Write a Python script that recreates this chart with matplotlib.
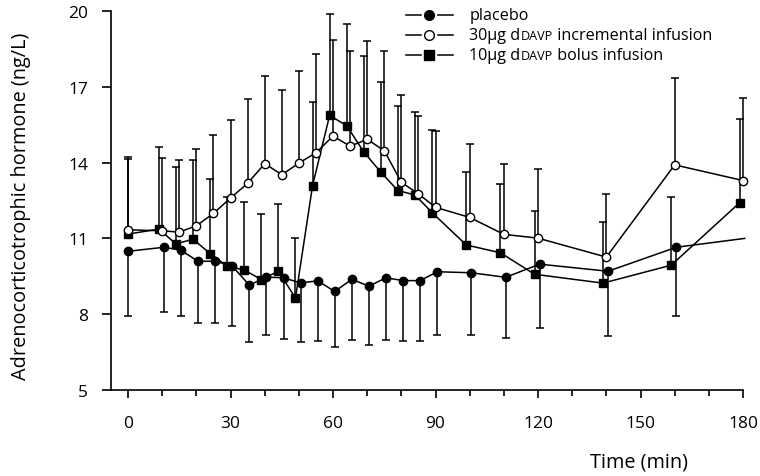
import numpy as np
import matplotlib
matplotlib.use("Agg")
import matplotlib.pyplot as plt
from matplotlib.offsetbox import DrawingArea, TextArea, HPacker, VPacker, AnchoredOffsetbox
from matplotlib.lines import Line2D

# ---------------- data ----------------
times = [0, 10, 15, 20, 25, 30, 35, 40, 45, 50, 55, 60, 65, 70, 75, 80, 85, 90,
         100, 110, 120, 140, 160, 180]

placebo_mean = [10.49, 10.65, 10.53, 10.09, 10.10, 9.90, 9.15, 9.47, 9.44, 9.24,
                9.32, 8.90, 9.38, 9.11, 9.44, 9.33, 9.33, 9.68, 9.64, 9.46, 9.98,
                9.70, 10.65, 11.00]
placebo_low = [7.94, 8.07, 7.91, 7.65, 7.65, 7.52, 6.88, 7.18, 7.02, 6.89, 6.93,
               6.70, 6.98, 6.79, 6.96, 6.95, 6.93, 7.19, 7.18, 7.04, 7.44, 7.15,
               7.92, np.nan]

incr_mean = [11.34, 11.30, 11.25, 11.50, 11.99, 12.60, 13.18, 13.96, 13.52, 13.98,
             14.39, 15.05, 14.65, 14.92, 14.47, 13.22, 12.76, 12.23, 11.83, 11.16,
             11.01, 10.26, 13.91, 13.29]
incr_high = [14.24, 14.17, 14.09, 14.55, 15.11, 15.67, 16.52, 17.42, 16.87, 17.64,
             18.31, 18.87, 18.40, 18.83, 18.40, 16.66, 15.85, 15.24, 14.72, 13.96,
             13.74, 12.76, 17.35, 16.55]

bolus_mean = [11.17, 11.37, 10.78, 10.97, 10.40, 9.90, 9.75, 9.37, 9.70, 8.64,
              13.09, 15.87, 15.46, 14.42, 13.62, 12.89, 12.72, 12.02, 10.74, 10.43,
              9.58, 9.23, 9.94, 12.41]
bolus_high = [14.15, 14.62, 13.81, 14.09, 13.35, 12.65, 12.45, 11.96, 12.38, 11.03,
              16.41, 19.90, 19.48, 18.20, 17.20, 16.25, 16.00, 15.31, 13.61, 13.16,
              12.08, 11.63, 12.63, 15.72]

x_major = [0, 30, 60, 90, 120, 150, 180]
x_minor = [10, 20, 40, 50, 70, 80, 100, 110, 130, 140, 160, 170]
y_ticks = [5, 8, 11, 14, 17, 20]

labels = ["placebo", "30\u00b5g dDAVP incremental infusion", "10\u00b5g dDAVP bolus infusion"]

# ---------------- style ----------------
FONT = "Open Sans"
plt.rcParams["font.family"] = [FONT, "DejaVu Sans"]
FS_TICK = 12.5
FS_LAB = 14.3
FS_LEG = 11.6
LW = 1.1

fig = plt.figure(figsize=(7.6, 4.77), dpi=100)
ax = fig.add_axes([111 / 760, 86 / 477, 632 / 760, 379 / 477])

t = np.array(times, dtype=float)
shift = lambda d: np.where(t > 0, t + d, t)
x_plac = shift(0.5)
x_incr = t
x_bolus = shift(-1.0)

pm = np.array(placebo_mean); pl = np.array(placebo_low)
im = np.array(incr_mean); ih = np.array(incr_high)
bm = np.array(bolus_mean); bh = np.array(bolus_high)

CAP = 5.5

def bars(x, y0, y1):
    ok = ~np.isnan(y1)
    ax.vlines(x[ok], y0[ok], y1[ok], color="k", lw=LW, zorder=2, clip_on=False)
    ax.plot(x[ok], y1[ok], ls="none", marker="_", ms=CAP, mew=LW, color="k",
            zorder=2, clip_on=False)

bars(x_plac, pm, pl)
bars(x_incr, im, ih)
bars(x_bolus, bm, bh)

ax.plot(x_plac, pm, color="k", lw=LW, marker="o", ms=6, mfc="k", mec="k",
        markevery=list(range(len(t) - 1)), zorder=3, clip_on=False)
ax.plot(x_bolus, bm, color="k", lw=LW, marker="s", ms=5.6, mfc="k", mec="k",
        zorder=3, clip_on=False)
ax.plot(x_incr, im, color="k", lw=LW, marker="o", ms=6, mfc="white", mec="k",
        mew=1.0, zorder=4, clip_on=False)

ax.set_xlim(-5, 180)
ax.set_ylim(5, 20)
for s in ["top", "right"]:
    ax.spines[s].set_visible(False)
for s in ["left", "bottom"]:
    ax.spines[s].set_linewidth(1.2)

ax.set_xticks(x_major)
ax.set_xticks(x_minor, minor=True)
ax.set_yticks(y_ticks)
ax.tick_params(axis="x", which="major", direction="out", length=6, width=1.2,
               pad=12, labelsize=FS_TICK)
ax.tick_params(axis="x", which="minor", direction="out", length=4.5, width=1.2)
ax.tick_params(axis="y", direction="out", length=6.5, width=1.2, pad=10,
               labelsize=FS_TICK)

fig.text(21 / 760, 1 - 206 / 477, "Adrenocorticotrophic hormone (ng/L)", rotation=90,
         ha="center", va="center", fontsize=FS_LAB)
fig.text(639 / 760, 1 - 463 / 477, "Time (min)", ha="center", va="center",
         fontsize=FS_LAB)

# ---------------- legend ----------------
def handle(marker, face, ms):
    da = DrawingArea(33.6, 10, 0, 0)
    da.add_artist(Line2D([0, 10.8], [5, 5], color="k", lw=LW))
    da.add_artist(Line2D([22.8, 33.6], [5, 5], color="k", lw=LW))
    da.add_artist(Line2D([16.8], [5], marker=marker, ms=ms, mfc=face, mec="k",
                         mew=1.0, ls="none"))
    return da

def label_box(text):
    tp = dict(fontsize=FS_LEG, family=[FONT, "DejaVu Sans"])
    tps = dict(fontsize=FS_LEG * 0.78, family=[FONT, "DejaVu Sans"])
    if "dDAVP" in text:
        a, b = text.split("dDAVP")
        parts = [TextArea(a + "d", textprops=tp), TextArea("DAVP", textprops=tps),
                 TextArea(b, textprops=tp)]
        return HPacker(children=parts, sep=0, pad=0, align="baseline")
    return TextArea(text, textprops=tp)

specs = [("o", "k", 7), ("o", "white", 7), ("s", "k", 6.5)]
rows = []
for (mk, fc, ms), lab in zip(specs, labels):
    rows.append(HPacker(children=[handle(mk, fc, ms), label_box(lab)], sep=12,
                        pad=0, align="center"))
vp = VPacker(children=rows, sep=2.8, pad=0, align="left")
leg = AnchoredOffsetbox(loc="upper left", child=vp, pad=0, borderpad=0,
                        frameon=False, bbox_to_anchor=(406 / 760, 1 - 8 / 477),
                        bbox_transform=fig.transFigure)
ax.add_artist(leg)

fig.savefig("out.png", dpi=100)
